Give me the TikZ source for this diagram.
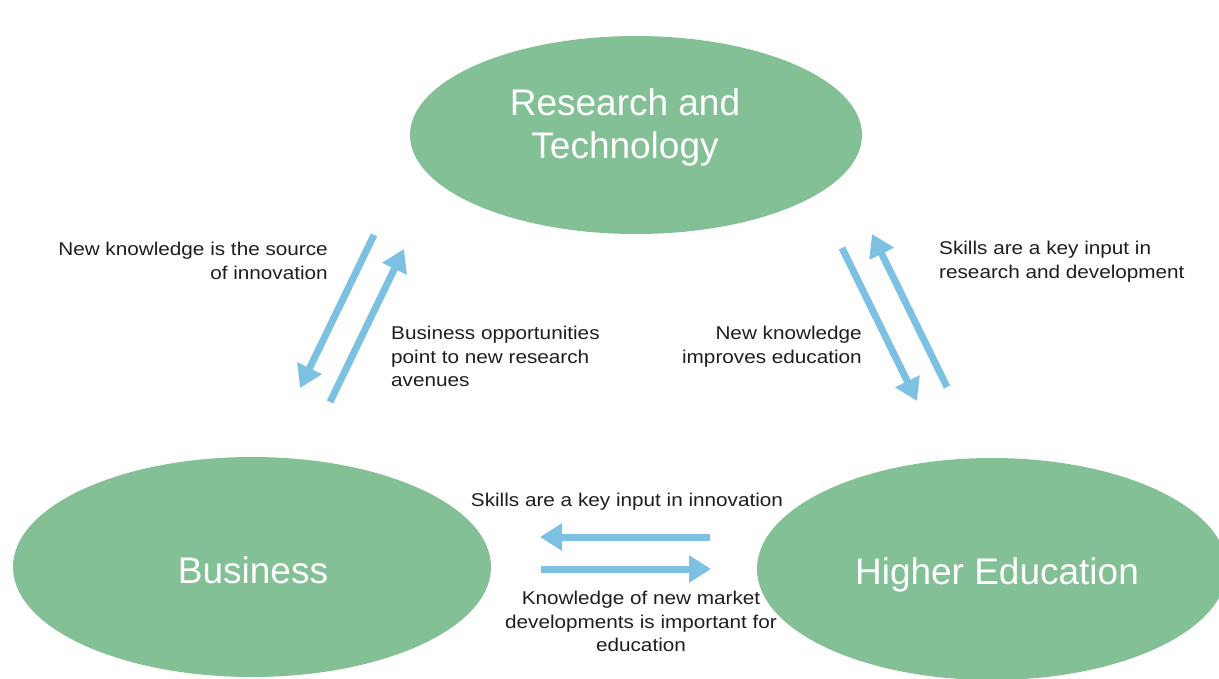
\documentclass[tikz,border=0pt]{standalone}
\usepackage{fontspec}
\setmainfont{Liberation Sans}
\newfontfamily\labfont[FakeStretch=1.12]{Liberation Sans}
\newfontfamily\ttlfont{Liberation Sans}
\usetikzlibrary{shapes.geometric,arrows.meta}
\definecolor{ovalgreen}{HTML}{84C095}
\definecolor{arrowblue}{HTML}{7CC0E2}
\definecolor{labgray}{HTML}{1E1E1E}
\tikzset{
  oval/.style={ellipse, fill=ovalgreen, draw=none, inner sep=0pt},
  ttl/.style={text=white, inner sep=0pt, align=center, font=\ttlfont\fontsize{37}{43}\selectfont},
  lab/.style={text=labgray, inner sep=0pt, font=\labfont\fontsize{18.5}{23.5}\selectfont},
  flow/.style={draw=arrowblue, line width=7pt, -{Triangle[length=22pt,width=26pt]}}
}
\begin{document}
\begin{tikzpicture}[x=1pt,y=-1pt]
\useasboundingbox (0,0) rectangle (1219,679);
\clip (0,0) rectangle (1219,679);
% ovals
\node[oval, minimum width=452pt, minimum height=198pt] (rt) at (636,135) {};
\node[oval, minimum width=478pt, minimum height=220pt] (bu) at (252,567) {};
\node[oval, minimum width=470pt, minimum height=222pt] (he) at (992,569) {};
\node[ttl, anchor=north] (rtt) at (625,88) {Research and\\Technology};
\node[ttl] (but) at (253,570) {Business};
\node[ttl] (het) at (997,575) {Higher Education};
% arrow ends
\coordinate (a1s) at (374,235); \coordinate (a1e) at (300,388);
\coordinate (a2s) at (330,402); \coordinate (a2e) at (404,249);
\coordinate (b1s) at (842,248); \coordinate (b1e) at (917,401);
\coordinate (b2s) at (947,387); \coordinate (b2e) at (872,234);
\coordinate (c1s) at (710,537); \coordinate (c1e) at (540,537);
\coordinate (c2s) at (541,569); \coordinate (c2e) at (711,569);
\draw[flow] (a1s) -- (a1e);
\draw[flow] (a2s) -- (a2e);
\draw[flow] (b1s) -- (b1e);
\draw[flow] (b2s) -- (b2e);
\draw[flow] (c1s) -- (c1e);
\draw[flow] (c2s) -- (c2e);
% labels
\node[lab, align=right, anchor=north east] (la) at (328,242) {New knowledge is the source\\of innovation};
\node[lab, align=left, anchor=north west] (lb) at (391,326) {Business opportunities\\point to new research\\avenues};
\node[lab, align=right, anchor=north east] (lc) at (862,326) {New knowledge\\improves education};
\node[lab, align=left, anchor=north west] (ld) at (939,241) {Skills are a key input in\\research and development};
\node[lab, align=center, anchor=north] (le) at (627,493) {Skills are a key input in innovation};
\node[lab, align=center, anchor=north] (lf) at (641,591) {Knowledge of new market\\developments is important for\\education};
\end{tikzpicture}
\end{document}
